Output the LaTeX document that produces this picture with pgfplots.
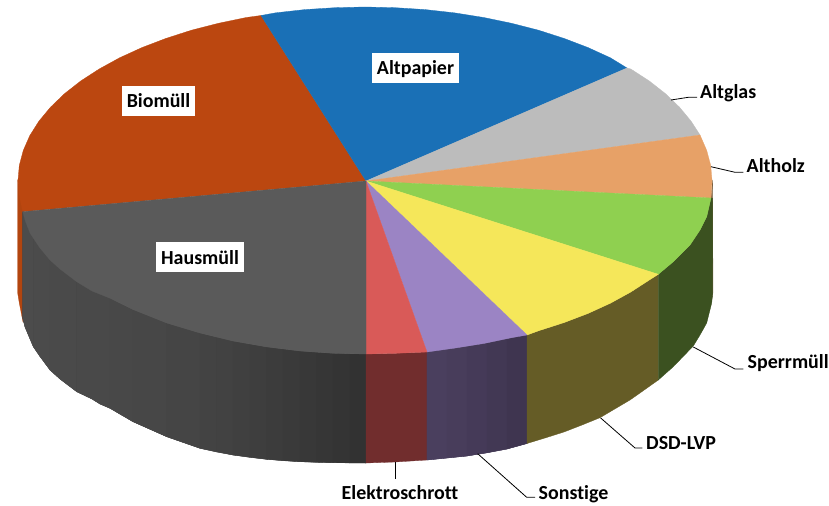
\documentclass[border=0pt]{standalone}
\usepackage{pgfplots}
\pgfplotsset{compat=1.18}
\usepackage{fontspec}
\setmainfont[Ligatures=NoCommon]{Carlito}
\tikzset{
  lbl/.style={font=\bfseries\fontsize{20}{22}\selectfont,text=black,inner sep=0pt},
  box/.style={fill=white,anchor=center,inner sep=0pt,minimum height=30bp},
}
\newcommand{\sidestrip}[2]{\addplot[fill={rgb,255:red,#1;green,#1;blue,#1},draw={rgb,255:red,#1;green,#1;blue,#1},line width=0.3pt] coordinates {#2} --cycle;}
\newcommand{\rgbstrip}[4]{\addplot[fill={rgb,255:red,#1;green,#2;blue,#3},draw={rgb,255:red,#1;green,#2;blue,#3},line width=0.3pt] coordinates {#4} --cycle;}
\newcommand{\slicepoly}[2]{\addplot[fill=#1,draw=#1,line width=0.3pt] coordinates {#2} --cycle;}
\newcommand{\leader}[1]{\addplot[black,line width=0.8bp,line join=round] coordinates {#1};}
\definecolor{cBio}{HTML}{BB4710}
\definecolor{cBioS}{HTML}{B2450F}
\definecolor{cPap}{HTML}{1A70B6}
\definecolor{cGlas}{HTML}{BCBCBC}
\definecolor{cHolz}{HTML}{E7A167}
\definecolor{cHolzS}{HTML}{7A6040}
\definecolor{cSperr}{HTML}{8FD050}
\definecolor{cSperrS}{HTML}{3B5120}
\definecolor{cDSD}{HTML}{F5E75A}
\definecolor{cDSDS}{HTML}{655C26}
\definecolor{cSon}{HTML}{9B84C4}
\definecolor{cSonB}{HTML}{453A58}
\definecolor{cEl}{HTML}{D95A58}
\definecolor{cElA}{HTML}{712D2D}
\definecolor{cHausS}{HTML}{404040}
\definecolor{cHaus}{HTML}{5A5A5A}
\begin{document}
\begin{tikzpicture}
\begin{axis}[
  scale only axis, width=829bp, height=506bp,
  xmin=0, xmax=829, ymin=0, ymax=506, y dir=reverse,
  hide axis, clip=true,
  every axis plot/.append style={mark=none},
]
% page extent
\addplot[draw=none] coordinates {(0,0)(829,506)};
% --- side faces ---
\slicepoly{cBioS}{(17.7,180)(17.7,293)(19.3,303)(23,322)(24,322)(24,205)}
\slicepoly{cHolzS}{(712.7,180)(712.9,293)(711.5,301)(711,198)}
% underlay of the Hausmüll side, no light seams between the strips
\slicepoly{cHausS}{(22.7,211.7)(33.3,238)(50,260)(76.7,281.7)(110,298.2)(133,309.5)(166.7,323)(200,333)(233,341)(266.7,346.9)(300,351)(333,353.3)(366,354)(366,463)(333,462.7)(300,461.7)(266.7,459.3)(233,455)(200,448.3)(166.7,436.7)(133,421.7)(110,408.3)(100,404)(92,399)(76.7,391.7)(60,379)(50,370)(40,356.5)(33.3,346.7)(25,327)(22.7,318)}
\sidestrip{76}{(22.7,211.7)(25,220)(30,233)(33.3,238)(33.3,346.7)(25,327)(22.7,318)}
\sidestrip{75}{(33.3,238)(40,248)(50,260)(50,370)(40,356.5)(33.3,346.7)}
\sidestrip{74}{(50,260)(60,269)(76.7,281.7)(76.7,391.7)(60,379)(50,370)}
\sidestrip{73}{(76.7,281.7)(92,291)(110,298.2)(110,408.3)(100,404)(92,399)(76.7,391.7)}
\sidestrip{72}{(110,298.2)(133,309.5)(133,421.7)(110,408.3)}
\sidestrip{71}{(133,309.5)(166.7,323)(166.7,436.7)(133,421.7)}
\sidestrip{69}{(166.7,323)(200,333)(200,448.3)(166.7,436.7)}
\sidestrip{67}{(200,333)(216.5,337)(216.5,452)(200,448.3)}
\sidestrip{66}{(216.5,337)(233,341)(233,455)(216.5,452)}
\sidestrip{64}{(233,341)(250,344.2)(250,457.4)(233,455)}
\sidestrip{62}{(250,344.2)(266.7,346.9)(266.7,459.3)(250,457.4)}
\sidestrip{60}{(266.7,346.9)(283,349.1)(283,460.7)(266.7,459.3)}
\sidestrip{58}{(283,349.1)(300,351)(300,461.7)(283,460.7)}
\sidestrip{56}{(300,351)(316.5,352.4)(316.5,462.3)(300,461.7)}
\sidestrip{54}{(316.5,352.4)(333,353.3)(333,462.7)(316.5,462.3)}
\sidestrip{52}{(333,353.3)(349.5,353.8)(349.5,462.9)(333,462.7)}
\sidestrip{50}{(349.5,353.8)(366,354)(366,463)(349.5,462.9)}
\slicepoly{cElA}{(366,354)(395.2,353.3)(427,352)(427,460)(395.2,462)(366,463)}
\slicepoly{cSonB}{(427,352)(447,349.2)(467,346.3)(487,343)(507,338.6)(527,335)(527,443.5)(507,449)(487,452.8)(467,456)(447,458)(427,460)}
\rgbstrip{74}{63}{94}{(427,352)(447,349.2)(447,458)(427,460)}
\rgbstrip{72}{61}{91}{(447,349.2)(467,346.3)(467,456)(447,458)}
\rgbstrip{69}{58}{88}{(467,346.3)(487,343)(487,452.8)(467,456)}
\rgbstrip{66}{56}{84}{(487,343)(507,338.6)(507,449)(487,452.8)}
\rgbstrip{63}{53}{80}{(507,338.6)(527,335)(527,443.5)(507,449)}
\slicepoly{cDSDS}{(527,335)(538.5,330.8)(564,322.6)(588.1,313.4)(610.4,303.2)(630.8,292)(649.3,280)(658.3,274.3)(658.3,380)(640,393)(630,400)(600,417.7)(582,425)(564,432)(545,438)(527,443.5)}
\slicepoly{cSperrS}{(658.3,274.3)(673.3,261.7)(690,245)(700,230)(706.7,216.7)(711,198)(712.5,198)(712.7,293)(711.7,303)(706.7,323)(700,335)(693.3,346)(673.3,366.7)(658.3,380)}
% --- top faces ---
\slicepoly{cBio}{(366,181)(22.7,211.7)(19.3,195.6)(18,180.5)(19.3,165.4)(23.3,150.4)(29.8,135.6)(38.9,121.2)(50.5,107.2)(64.5,93.7)(80.7,81)(99.2,69)(119.6,57.8)(141.9,47.6)(166,38.4)(191.5,30.2)(218.4,23.3)(246.3,17.5)(261,15.5)}
\slicepoly{cPap}{(366,181)(261,15.5)(275.2,12.9)(304.7,9.6)(334.8,7.7)(365,7)(395.2,7.7)(425.3,9.6)(454.8,12.9)(483.7,17.5)(511.6,23.3)(538.5,30.2)(564,38.4)(588.1,47.6)(610.4,57.8)(627,68)}
\slicepoly{cGlas}{(366,181)(627,68)(630.8,69)(649.3,81)(665.5,93.7)(679.5,107.2)(691.1,121.2)(700,135)}
\slicepoly{cHolz}{(366,181)(700,135)(706.7,150.4)(710.7,165.4)(712,180.5)(711,198)}
\slicepoly{cSperr}{(366,181)(711,198)(706.7,216.7)(700,230)(690,245)(673.3,261.7)(658.3,274.3)}
\slicepoly{cDSD}{(366,181)(658.3,274.3)(649.3,280)(630.8,292)(610.4,303.2)(588.1,313.4)(564,322.6)(538.5,330.8)(527,335)}
\slicepoly{cSon}{(366,181)(527,335)(511.6,337.7)(483.7,343.5)(454.8,348.1)(427,352)}
\slicepoly{cEl}{(366,181)(427,352)(395.2,353.3)(366,354)}
\slicepoly{cHaus}{(366,181)(366,354)(333,353.3)(300,351)(266.7,346.9)(233,341)(200,333)(166.7,323)(133,309.5)(110,298.2)(92,291)(76.7,281.7)(60,269)(50,260)(40,248)(33.3,238)(30,233)(25,220)(22.7,211.7)}
% --- leader lines ---
\leader{(671,100)(688.3,97.3)(697,97.3)}
\leader{(711,166.7)(735,172.3)(743.3,172.3)}
\leader{(693.3,347)(735,369)(743.3,369)}
\leader{(600.7,418)(635,448)(642.3,448)}
\leader{(477.7,453.7)(526.7,497.3)(535,497.3)}
\leader{(395.7,462)(395.7,478.7)}
% --- labels ---
\node[box,minimum width=87bp] at (axis cs:415.5,68) {};
\node[box,minimum width=73bp] at (axis cs:158.5,101) {};
\node[box,minimum width=88bp] at (axis cs:200,257) {};
\node[lbl,anchor=base] at (axis cs:415.5,75) {Altpapier};
\node[lbl,anchor=base] at (axis cs:158.5,107.7) {Biomüll};
\node[lbl,anchor=base] at (axis cs:200,264) {Hausmüll};
\node[lbl,anchor=base west] at (axis cs:700,98.3) {Altglas};
\node[lbl,anchor=base west] at (axis cs:746.5,172.7) {Altholz};
\node[lbl,anchor=base west] at (axis cs:747.5,368.7) {Sperrmüll};
\node[lbl,anchor=base west] at (axis cs:646,449) {DSD-LVP};
\node[lbl,anchor=base west] at (axis cs:538.5,499) {Sonstige};
\node[lbl,anchor=base west] at (axis cs:341.5,499) {Elektroschrott};
\end{axis}
\end{tikzpicture}
\end{document}
